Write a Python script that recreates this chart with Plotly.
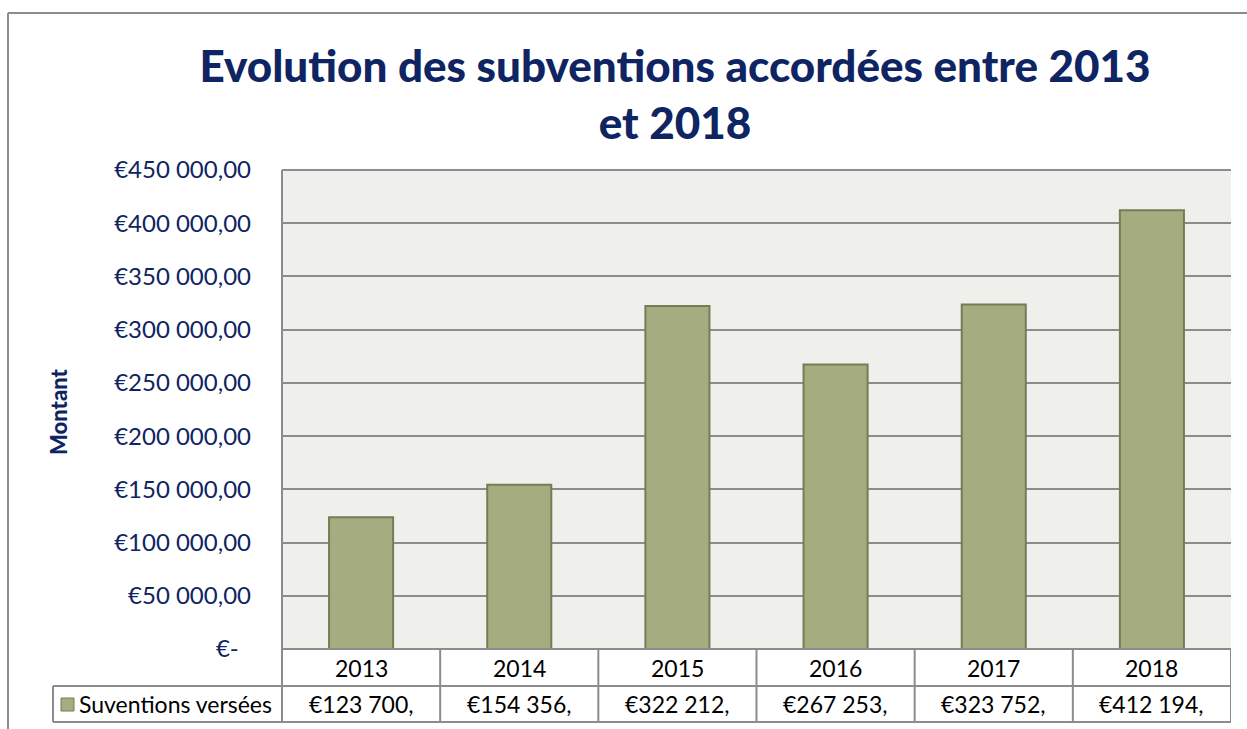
import plotly.graph_objects as go

# ---------------- data ----------------
years = ["2013", "2014", "2015", "2016", "2017", "2018"]
amounts = [123700, 154356, 322212, 267253, 323752, 412194]
series_name = "Suventions versées"
y_ticks = [0, 50000, 100000, 150000, 200000, 250000, 300000, 350000, 400000, 450000]
title_text = "Evolution des subventions accordées entre 2013<br>et 2018"
y_title = "Montant"

# ---------------- style / geometry ----------------
W, H = 1247, 729
L, R, T, B = 282, 1231, 170, 649
NAVY = "#0F2462"
GRID = "#8C8C8C"
BAR = "#A4AC80"
BAR_EDGE = "#767C58"
FONT = "Lato"


def px_x(p):
    return (p - L) / (R - L)


def px_y(p):
    return (B - p) / (B - T)


def fmt_tick(v):
    if v == 0:
        return "€-\u00a0\u00a0"
    return "€" + f"{v:,}".replace(",", " ") + ",00"


def fmt_cell(v):
    return "€" + f"{v:,}".replace(",", " ") + ","


fig = go.Figure()
fig.add_trace(go.Bar(
    x=years, y=amounts, name=series_name,
    marker=dict(color=BAR, line=dict(color=BAR_EDGE, width=2)),
    showlegend=False,
))

shapes = []
line = dict(color=GRID, width=2)
# outer chart border (left and top)
shapes.append(dict(type="line", xref="paper", yref="paper", x0=px_x(8), x1=px_x(8),
                   y0=px_y(13), y1=px_y(745), line=line))
shapes.append(dict(type="line", xref="paper", yref="paper", x0=px_x(8), x1=px_x(1260),
                   y0=px_y(13), y1=px_y(13), line=line))
# plot area top and left
shapes.append(dict(type="line", xref="paper", yref="paper", x0=0, x1=1, y0=1, y1=1, line=line))
shapes.append(dict(type="line", xref="paper", yref="paper", x0=0, x1=0, y0=1, y1=px_y(722), line=line))
# table horizontals
shapes.append(dict(type="line", xref="paper", yref="paper", x0=0, x1=1, y0=0, y1=0, line=line))
shapes.append(dict(type="line", xref="paper", yref="paper", x0=px_x(53), x1=1,
                   y0=px_y(686), y1=px_y(686), line=line))
shapes.append(dict(type="line", xref="paper", yref="paper", x0=px_x(53), x1=1,
                   y0=px_y(722), y1=px_y(722), line=line))
# table verticals
for i in range(len(years) + 1):
    shapes.append(dict(type="line", xref="x", yref="paper", x0=i - 0.5, x1=i - 0.5,
                       y0=0, y1=px_y(722), line=line))
shapes.append(dict(type="line", xref="paper", yref="paper", x0=px_x(53), x1=px_x(53),
                   y0=px_y(686), y1=px_y(722), line=line))
# legend key
shapes.append(dict(type="rect", xref="paper", yref="paper", x0=px_x(61), x1=px_x(74),
                   y0=px_y(711), y1=px_y(698), fillcolor=BAR,
                   line=dict(color=BAR_EDGE, width=1)))

TABLE_FONT = dict(family=FONT, size=23, color="#000000")
annotations = []
for i, (yr, v) in enumerate(zip(years, amounts)):
    annotations.append(dict(xref="x", yref="paper", x=i, y=px_y(667.5), text=yr,
                            showarrow=False, font=TABLE_FONT,
                            xanchor="center", yanchor="middle"))
    annotations.append(dict(xref="x", yref="paper", x=i, y=px_y(704), text=fmt_cell(v),
                            showarrow=False, font=TABLE_FONT,
                            xanchor="center", yanchor="middle"))
annotations.append(dict(xref="paper", yref="paper", x=px_x(77), y=px_y(704), text=series_name,
                        showarrow=False, font=TABLE_FONT,
                        xanchor="left", yanchor="middle"))
annotations.append(dict(xref="paper", yref="paper", x=px_x(58), y=px_y(412), text=y_title,
                        showarrow=False, textangle=-90,
                        font=dict(family=FONT, size=22, color=NAVY, weight=900),
                        xanchor="center", yanchor="middle"))

fig.update_layout(
    width=W, height=H, autosize=False,
    margin=dict(l=L, r=W - R, t=T, b=H - B, pad=0),
    paper_bgcolor="#FFFFFF", plot_bgcolor="#EFEFEB",
    bargap=0.595,
    title=dict(text=title_text, x=675 / W, xanchor="center",
               y=1 - 82 / H, yanchor="middle", yref="container",
               font=dict(family=FONT, size=44, color=NAVY, weight=900)),
    xaxis=dict(range=[-0.5, len(years) - 0.5], showticklabels=False, showgrid=False,
               zeroline=False, showline=False, ticks="", automargin=False, fixedrange=True),
    yaxis=dict(range=[0, 450000], tickvals=y_ticks, ticktext=[fmt_tick(v) for v in y_ticks],
               showgrid=True, gridcolor=GRID, gridwidth=2, zeroline=False, showline=False,
               ticks="", ticklabelstandoff=30, automargin=False,
               tickfont=dict(family=FONT, size=24, color=NAVY)),
    shapes=shapes, annotations=annotations,
    font=dict(family=FONT),
)

fig.write_html("out.html")
